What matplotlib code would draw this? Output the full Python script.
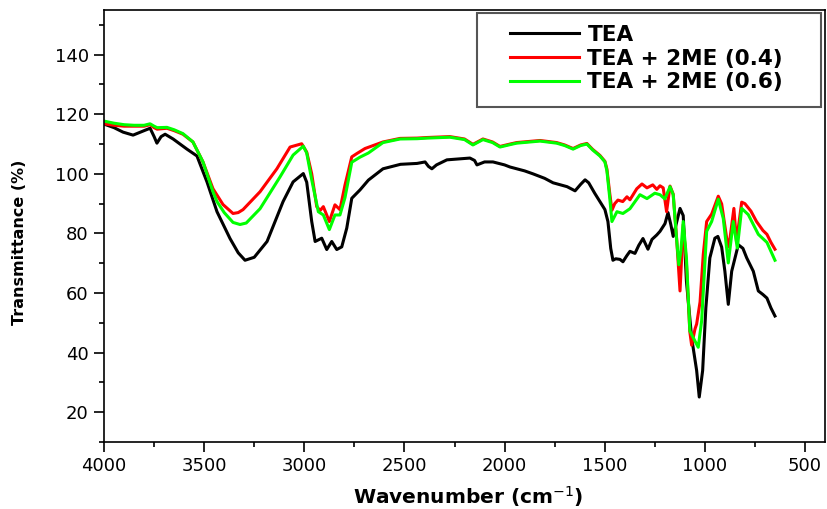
import matplotlib
matplotlib.use("Agg")
import matplotlib.pyplot as plt
from matplotlib.patches import Rectangle
from matplotlib.ticker import MultipleLocator

# ---- data ----
tea_x = [4000, 3950, 3905, 3855, 3800, 3770, 3750, 3736, 3715, 3695, 3655, 3586, 3536, 3486,
         3436, 3371, 3330, 3296, 3250, 3186, 3106, 3056, 3005, 2988, 2963, 2946, 2913, 2888,
         2863, 2838, 2813, 2788, 2763, 2722, 2680, 2607, 2520, 2437, 2397, 2380, 2363, 2340,
         2288, 2173, 2150, 2138, 2100, 2058, 2000, 1973, 1900, 1858, 1800, 1758, 1688, 1648,
         1620, 1598, 1580, 1550, 1524, 1499, 1484, 1470, 1459, 1445, 1424, 1409, 1390, 1374,
         1349, 1330, 1309, 1284, 1264, 1240, 1224, 1199, 1184, 1170, 1158, 1140, 1124, 1108,
         1092, 1066, 1041, 1028, 1011, 995, 975, 950, 935, 916, 900, 883, 866, 833, 810, 791,
         758, 733, 710, 690, 670, 650]
tea_y = [116.7, 115.5, 114, 113, 114.5, 115.3, 112.5, 110.3, 112.5, 113.3, 111.7, 108.3, 106, 97.3,
         87.3, 78.3, 73.5, 71, 72, 77.3, 90.7, 97.3, 100.1, 97.2, 84, 77.3, 78.4, 74.6,
         77.3, 74.6, 75.5, 81.8, 91.8, 94.6, 97.9, 101.7, 103.2, 103.5, 104, 102.5, 101.7, 103,
         104.7, 105.3, 104.5, 103, 104, 104, 103, 102.3, 101, 100, 98.5, 97, 95.7, 94.3,
         96.5, 98, 97, 93.5, 90.7, 88, 84, 75, 71, 71.5, 71.3, 70.5, 72.5, 74,
         73.3, 76, 78.3, 74.7, 78, 79.5, 80.7, 83.3, 87, 83, 79, 84, 88.4, 86,
         64, 45, 34, 25.1, 34, 55, 71.8, 78.4, 79, 75.4, 67.3, 56.2, 67.3, 76.2, 75, 71.8,
         67.3, 60.7, 59.5, 58.3, 55, 52.3]

me04_x = [4000, 3950, 3900, 3850, 3800, 3770, 3750, 3735, 3686, 3650, 3606, 3556, 3506, 3456,
          3406, 3356, 3330, 3306, 3221, 3137, 3071, 3013, 2988, 2963, 2938, 2921, 2905, 2875,
          2847, 2822, 2797, 2763, 2738, 2697, 2607, 2522, 2437, 2387, 2273, 2200, 2158, 2108,
          2060, 2023, 1973, 1940, 1823, 1740, 1700, 1658, 1620, 1589, 1560, 1524, 1499, 1489,
          1475, 1464, 1450, 1434, 1410, 1389, 1374, 1340, 1314, 1289, 1260, 1240, 1224, 1208,
          1191, 1174, 1158, 1141, 1124, 1108, 1092, 1075, 1066, 1049, 1041, 1024, 1008, 991,
          966, 933, 916, 891, 880, 855, 842, 816, 800, 770, 742, 710, 690, 670, 650]
me04_y = [116.8, 116.3, 116, 116, 116, 116.5, 115.5, 115, 115.3, 114.5, 113.3, 110.7, 104, 95,
          89.7, 86.7, 87, 88, 94, 101.7, 109, 110.1, 107.3, 100, 89, 87.7, 89, 84,
          89.6, 88, 96.2, 105.7, 106.8, 108.5, 110.7, 111.9, 112.0, 112.2, 112.5, 111.7, 109.9, 111.7,
          110.7, 109.2, 110.0, 110.5, 111.2, 110.5, 109.7, 108.5, 109.7, 110.2, 108.2, 106.2, 104.2, 101.6,
          93.5, 87.8, 90, 91.2, 90.7, 92.3, 91.3, 95, 96.6, 95.3, 96.3, 94.8, 96, 95.3,
          87.3, 95.9, 93.2, 78.4, 60.7, 83, 70, 47, 42.5, 48, 49.6, 57, 72.9, 84,
          86.5, 92.5, 89.9, 78.4, 75.5, 88.4, 77.3, 90.5, 90, 87.5, 84, 81, 79.7, 77, 74.7]

me06_x = [4000, 3950, 3900, 3850, 3800, 3770, 3750, 3735, 3686, 3650, 3606, 3556, 3506, 3456,
          3436, 3400, 3356, 3321, 3290, 3221, 3121, 3056, 3005, 2988, 2963, 2930, 2905, 2875,
          2847, 2822, 2797, 2763, 2722, 2680, 2607, 2522, 2437, 2387, 2273, 2200, 2158, 2108,
          2060, 2023, 1973, 1940, 1823, 1740, 1700, 1658, 1620, 1589, 1560, 1524, 1499, 1489,
          1475, 1464, 1439, 1409, 1374, 1324, 1289, 1250, 1224, 1200, 1174, 1158, 1141, 1130,
          1120, 1108, 1092, 1075, 1058, 1033, 1016, 991, 966, 933, 908, 883, 858, 838, 816,
          783, 733, 690, 670, 650]
me06_y = [117.7, 117, 116.5, 116.3, 116.3, 116.8, 116, 115.5, 115.6, 114.8, 113.5, 110.7, 104, 94,
          90.7, 87, 83.7, 83, 83.5, 88.3, 99, 106.3, 109.3, 107, 98, 87.3, 86.2, 81.3,
          86.2, 86.2, 92, 103.9, 105.6, 107, 110.5, 111.7, 111.8, 112, 112.3, 111.5, 109.7, 111.5,
          110.5, 109, 109.8, 110.3, 111, 110.3, 109.5, 108.3, 109.5, 110, 108, 106, 104, 101,
          92, 84, 87.3, 86.7, 88.3, 93, 91.7, 93.5, 93, 91.6, 95.7, 93, 78, 69.5,
          74, 84, 71.8, 47.3, 45, 41.8, 50.7, 80.7, 84, 91.5, 85, 70.1, 84, 75.1, 88.4,
          86.3, 79.7, 77, 74, 71]

labels = ["TEA", "TEA + 2ME (0.4)", "TEA + 2ME (0.6)"]
colors = ["black", "#ff0000", "#00ff00"]

fig = plt.figure(figsize=(8.27, 5.09), dpi=100)
ax = fig.add_axes([0.1258, 0.1316, 0.8718, 0.8488])

ax.plot(tea_x, tea_y, color=colors[0], lw=2.2, label=labels[0])
ax.plot(me04_x, me04_y, color=colors[1], lw=2.2, label=labels[1])
ax.plot(me06_x, me06_y, color=colors[2], lw=2.2, label=labels[2])

ax.set_xlim(4000, 400)
ax.set_ylim(10, 155)
ax.xaxis.set_major_locator(MultipleLocator(500))
ax.xaxis.set_minor_locator(MultipleLocator(250))
ax.yaxis.set_minor_locator(MultipleLocator(10))
ax.set_yticks(range(20, 141, 20))
ax.tick_params(which="major", direction="out", length=7, width=1.2, labelsize=13, pad=4)
ax.tick_params(which="minor", direction="out", length=3.5, width=1.2)
for s in ax.spines.values():
    s.set_linewidth(1.2)

ax.set_xlabel("Wavenumber (cm$^{-1}$)", fontsize=14.5, fontweight="bold")
ax.xaxis.set_label_coords(0.5056, -0.098)
ax.set_ylabel("Transmittance (%)", fontsize=11.5, fontweight="bold")
ax.yaxis.set_label_coords(-0.107, 0.463)

# legend box
ax.add_patch(Rectangle((0.517, 0.7755), 0.4775, 0.2175, transform=ax.transAxes,
                       fill=False, edgecolor="#555555", lw=1.5, zorder=5))
ax.legend(loc="upper left", bbox_to_anchor=(0.563, 0.966), frameon=False,
          borderpad=0, borderaxespad=0, handlelength=3.2, handletextpad=0.4,
          labelspacing=0.18, prop={"weight": "bold", "size": 15.5})

fig.savefig("out.png", dpi=100)
